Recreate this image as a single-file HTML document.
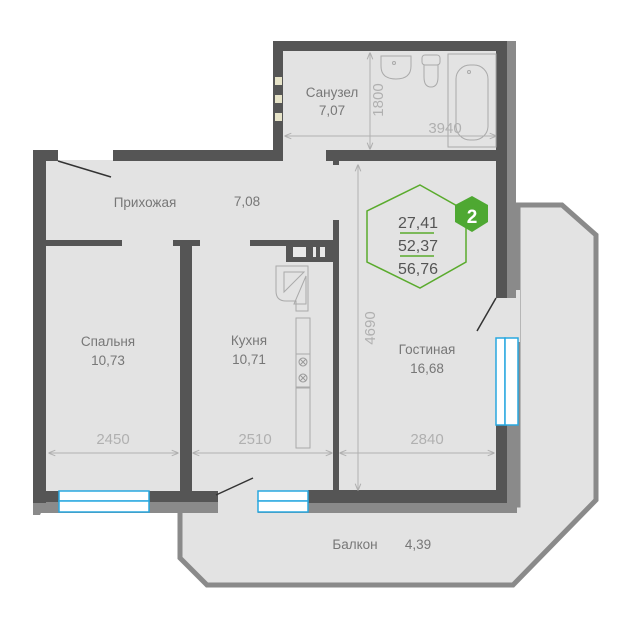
<!DOCTYPE html>
<html><head><meta charset="utf-8"><style>
html,body{margin:0;padding:0;background:#fff}
svg{display:block}
text{font-family:"Liberation Sans",sans-serif}
</style></head><body>
<svg width="630" height="619" viewBox="0 0 630 619" xmlns="http://www.w3.org/2000/svg">
<defs><marker id="a" viewBox="0 0 10 10" refX="9" refY="5" markerWidth="7" markerHeight="7" orient="auto-start-reverse"><path d="M0,1 L10,5 L0,9" fill="none" stroke="#b0b0b0" stroke-width="1.5"/></marker></defs>
<!-- balcony -->
<polygon points="518,205 562,205 596,235 596,500 513,585 207,585 180,558 180,505 518,505" fill="#e3e3e3" stroke="#8a8a8a" stroke-width="5"/>
<!-- floors -->
<rect x="283" y="51" width="213" height="112" fill="#e3e3e3"/>
<rect x="46" y="160" width="450" height="332" fill="#e3e3e3"/>
<rect x="490" y="290" width="30" height="52" fill="#e3e3e3"/>
<rect x="200" y="488" width="60" height="30" fill="#e3e3e3"/>
<!-- shadows -->
<rect x="507" y="41" width="9" height="257" fill="#8a8a8a"/>
<rect x="507" y="425" width="10" height="88" fill="#8a8a8a"/>
<rect x="40" y="502" width="178" height="11" fill="#8a8a8a"/>
<rect x="258" y="502" width="250" height="11" fill="#8a8a8a"/>
<polygon points="33,502 46,502 40,515 33,515" fill="#8a8a8a"/>
<g fill="#555">
<rect x="273" y="41" width="234" height="10"/>
<rect x="273" y="41" width="10" height="118"/>
<rect x="496" y="41" width="11" height="257"/>
<rect x="326" y="150" width="181" height="11"/>
<rect x="333" y="158" width="6" height="7"/>
<rect x="33" y="150" width="25" height="11"/>
<rect x="113" y="150" width="170" height="11"/>
<rect x="33" y="150" width="13" height="353"/>
<rect x="45" y="240" width="77" height="6"/>
<rect x="173" y="240" width="27" height="6"/>
<rect x="180" y="240" width="12" height="257"/>
<rect x="250" y="240" width="83" height="6"/>
<rect x="286" y="246" width="47" height="16"/>
<rect x="333" y="220" width="6" height="277"/>
<rect x="33" y="491" width="185" height="11"/>
<rect x="308" y="490" width="199" height="13"/>
<rect x="496" y="425" width="11" height="78"/>
</g>
<g fill="#e8e8e8"><rect x="293" y="247" width="13" height="10"/><rect x="313" y="247" width="3" height="10"/><rect x="320" y="247" width="5" height="10"/></g>
<g fill="#e6e3c8"><rect x="275" y="77" width="7" height="8"/><rect x="275" y="95" width="7" height="8"/><rect x="275" y="113" width="7" height="8"/></g>
<g fill="#fff" stroke="#29a8e0" stroke-width="1.5">
<rect x="59" y="491" width="90" height="10"/><rect x="59" y="501" width="90" height="11"/>
<rect x="258" y="491" width="50" height="10"/><rect x="258" y="501" width="50" height="11"/>
<rect x="496" y="338" width="9" height="87"/><rect x="505" y="338" width="13" height="87"/>
</g>
<g stroke="#333" stroke-width="1.5">
<line x1="58" y1="161" x2="111" y2="177"/>
<line x1="216" y1="495" x2="253" y2="478"/>
<line x1="496" y1="298" x2="477" y2="331"/>
</g>
<g fill="none" stroke="#aaa" stroke-width="1">
<path d="M381,56 h30 v10 q0,13 -15,13 q-15,0 -15,-13z"/><circle cx="394" cy="63" r="1.5"/>
<rect x="422" y="55" width="18" height="10" rx="3"/><path d="M424,65 v12 q0,10 7,10 q7,0 7,-10 v-12"/>
<rect x="448" y="54" width="48" height="93"/><rect x="456" y="65" width="32" height="75" rx="14"/><circle cx="469" cy="72" r="1.5"/>
<path d="M276,266 h32 v45 h-12 v-10 h-10 q-10,0 -10,-10z"/><path d="M284,272 h20 l-20,20z M306,276 v28 h-12z"/>
<rect x="296" y="318" width="14" height="36"/><rect x="296" y="354" width="14" height="33"/><rect x="296" y="388" width="14" height="60"/>
<g stroke="#999"><circle cx="303" cy="362" r="4"/><circle cx="303" cy="378" r="4"/><line x1="300" y1="359" x2="306" y2="365"/><line x1="306" y1="359" x2="300" y2="365"/><line x1="300" y1="375" x2="306" y2="381"/><line x1="306" y1="375" x2="300" y2="381"/></g>
</g>
<g stroke="#b0b0b0" stroke-width="1" marker-start="url(#a)" marker-end="url(#a)">
<line x1="285" y1="136" x2="496" y2="136"/>
<line x1="370" y1="53" x2="370" y2="149"/>
<line x1="358" y1="165" x2="358" y2="490"/>
<line x1="49" y1="453" x2="178" y2="453"/>
<line x1="193" y1="453" x2="332" y2="453"/>
<line x1="340" y1="453" x2="494" y2="453"/>
</g>
<g fill="#b0b0b0" font-size="15" text-anchor="middle">
<text x="445" y="133">3940</text>
<text x="113" y="444">2450</text>
<text x="255" y="444">2510</text>
<text x="427" y="444">2840</text>
<text transform="translate(383,100) rotate(-90)">1800</text>
<text transform="translate(375,328) rotate(-90)">4690</text>
</g>
<g fill="#777" font-size="13.5" text-anchor="middle">
<text x="332" y="97">Санузел</text><text x="332" y="115">7,07</text>
<text x="145" y="207">Прихожая</text><text x="247" y="206">7,08</text>
<text x="108" y="346">Спальня</text><text x="108" y="365">10,73</text>
<text x="249" y="345">Кухня</text><text x="249" y="364">10,71</text>
<text x="427" y="354">Гостиная</text><text x="427" y="373">16,68</text>
<text x="355" y="549">Балкон</text><text x="418" y="549">4,39</text>
</g>
<polygon points="420,185 466,211 466,262 420,288 367,262 367,211" fill="none" stroke="#5aab2d" stroke-width="1.5"/>
<polygon points="472,196 488,205 488,222 472,232 455,222 455,205" fill="#4ea832"/>
<text x="472" y="223" fill="#fff" font-size="19" font-weight="bold" text-anchor="middle">2</text>
<g fill="#555" font-size="16" text-anchor="middle"><text x="418" y="228">27,41</text><text x="418" y="251">52,37</text><text x="418" y="274">56,76</text></g>
<g stroke="#5aab2d" stroke-width="1.5"><line x1="400" y1="233" x2="434" y2="233"/><line x1="400" y1="256" x2="434" y2="256"/></g>
</svg>
</body></html>
